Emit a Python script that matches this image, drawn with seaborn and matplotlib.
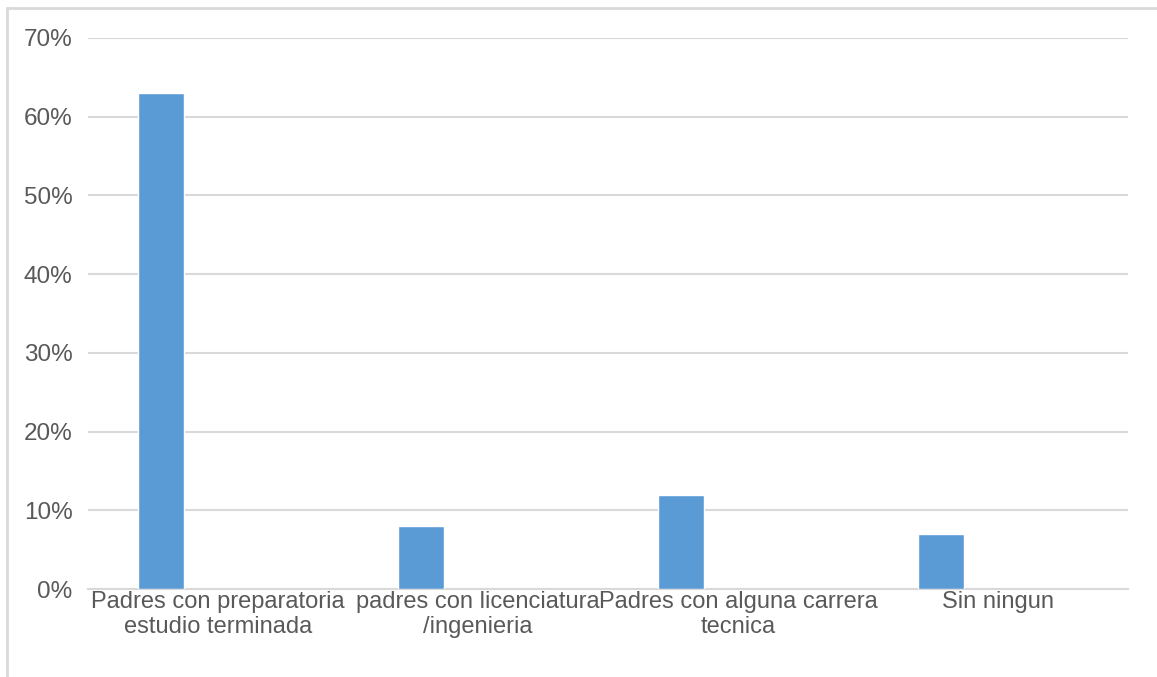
import matplotlib.pyplot as plt
import seaborn as sns
import pandas as pd
from matplotlib.lines import Line2D
from matplotlib.ticker import PercentFormatter

categories = ["Padres con preparatoria\nestudio terminada",
              "padres con licenciatura\n/ingenieria",
              "Padres con alguna carrera\ntecnica",
              "Sin ningun"]
values = [63, 8, 12, 7]
yticks = [0, 10, 20, 30, 40, 50, 60, 70]

df = pd.DataFrame({"cat": categories, "val": values})

sns.set_style("white")
plt.rcParams['font.family'] = ['Liberation Sans', 'DejaVu Sans']

fig = plt.figure(figsize=(11.57, 6.77), dpi=100)
ax = fig.add_axes([88/1157, 1 - 589/677, (1128 - 88)/1157, (589 - 38)/677])

sns.barplot(data=df, x="cat", y="val", color="#5b9bd5", width=0.177,
            saturation=1, ax=ax, zorder=3)

ax.set_ylim(0, 70)
ax.set_yticks(yticks)
ax.yaxis.set_major_formatter(PercentFormatter(decimals=0))
ax.set_xlim(-0.28, 3.72)
ax.set_xticks([i + 0.22 for i in range(len(categories))])
ax.set_xticklabels(categories, linespacing=1.15)
ax.grid(axis="y", color="#d9d9d9", linewidth=1.5, zorder=0)
ax.set_axisbelow(True)
ax.set_xlabel("")
ax.set_ylabel("")
for s in ["top", "right", "left"]:
    ax.spines[s].set_visible(False)
ax.spines["bottom"].set_color("#d9d9d9")
ax.spines["bottom"].set_linewidth(1.5)
ax.tick_params(axis="x", length=0, labelsize=17, labelcolor="#595959", pad=1.5)
ax.tick_params(axis="y", length=0, labelsize=17.5, labelcolor="#595959", pad=11)

# chart frame (top and left edges)
fig.add_artist(Line2D([7/1157, 1], [1 - 8/677, 1 - 8/677], color="#d9d9d9", lw=2))
fig.add_artist(Line2D([7/1157, 7/1157], [0, 1 - 8/677], color="#d9d9d9", lw=2))

fig.savefig("out.png", dpi=100, facecolor="white")
